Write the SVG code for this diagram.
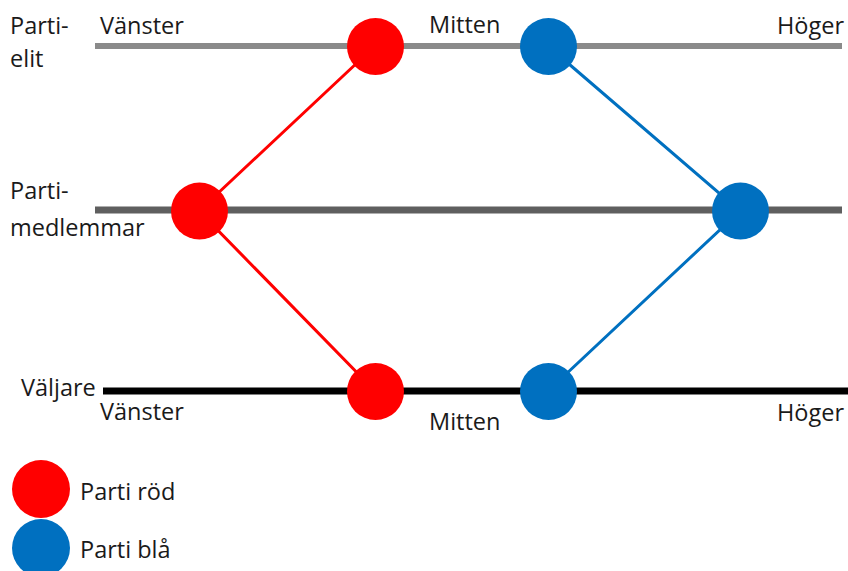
<svg xmlns="http://www.w3.org/2000/svg" width="848" height="571" viewBox="0 0 848 571">
<style>
text{font-family:"Open Sans","Liberation Sans",sans-serif;font-size:23.5px;fill:#1a1a1a}
.red{fill:#ff0000}
.blue{fill:#0070c0}
</style>
<rect width="848" height="571" fill="#fff"/>
<g id="axes">
<line x1="95" y1="46" x2="842" y2="46" stroke="#8a8a8a" stroke-width="6"/>
<line x1="95" y1="210" x2="842" y2="210" stroke="#5f5f5f" stroke-width="7"/>
<line x1="103" y1="391" x2="848" y2="391" stroke="#000" stroke-width="7"/>
</g>
<g id="connectors" fill="none" stroke-width="3">
<polyline points="375,46 199,211 375,391" stroke="#ff0000"/>
<polyline points="548,46 740,211 548,391" stroke="#0070c0"/>
</g>
<g id="labels">
<text x="10" y="34">Parti-</text>
<text x="10" y="67">elit</text>
<text x="100" y="34">Vänster</text>
<text x="429" y="33">Mitten</text>
<text x="844" y="34" text-anchor="end">Höger</text>
<text x="10" y="199">Parti-</text>
<text x="10" y="236">medlemmar</text>
<text x="21" y="396">Väljare</text>
<text x="100" y="420">Vänster</text>
<text x="429" y="430">Mitten</text>
<text x="844" y="421" text-anchor="end">Höger</text>
</g>
<g id="red-elit"><circle class="red" cx="375.5" cy="46.5" r="28.5"/></g>
<g id="blue-elit"><circle class="blue" cx="548.5" cy="46.5" r="28.5"/></g>
<g id="red-medlem"><circle class="red" cx="199.5" cy="211" r="28.5"/></g>
<g id="blue-medlem"><circle class="blue" cx="740.5" cy="211" r="28.5"/></g>
<g id="red-valjare"><circle class="red" cx="375.5" cy="391.5" r="28.5"/></g>
<g id="blue-valjare"><circle class="blue" cx="548.5" cy="391.5" r="28.5"/></g>
<g id="legend-red"><circle class="red" cx="41" cy="489" r="29"/><text x="80" y="500">Parti röd</text></g>
<g id="legend-blue"><circle class="blue" cx="41" cy="548" r="29"/><text x="80" y="558">Parti blå</text></g>
</svg>
